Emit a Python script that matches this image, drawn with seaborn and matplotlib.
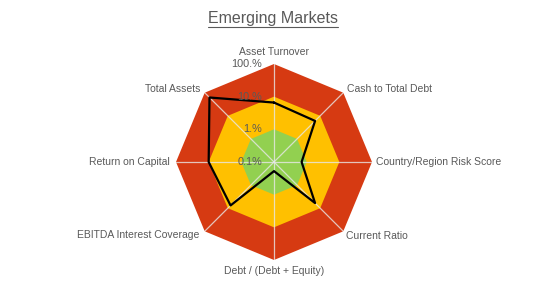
import numpy as np
import pandas as pd
import matplotlib
matplotlib.use("Agg")
import matplotlib.pyplot as plt
from matplotlib.transforms import offset_copy
from matplotlib.lines import Line2D
import seaborn as sns

categories = ["Asset Turnover", "Cash to Total Debt", "Country/Region Risk Score",
              "Current Ratio", "Debt / (Debt + Equity)", "EBITDA Interest Coverage",
              "Return on Capital", "Total Assets"]
values_pct = [6.6, 6.0, 0.7, 6.0, 0.19, 7.6, 10.0, 62.0]
band_limits_pct = [100.0, 10.0, 1.0]           # red, yellow, green outer edges
band_colors = ["#D63A12", "#FFC000", "#92D050"]
tick_values_pct = [0.1, 1.0, 10.0, 100.0]
tick_labels = ["0.1%", "1.%", "10.%", "100.%"]
title = "Emerging Markets"

sns.set_style("white")
plt.rcParams["font.family"] = ["Liberation Sans", "DejaVu Sans"]
text_color = "#595959"

W, H, DPI = 547, 295, 100
fig = plt.figure(figsize=(W / DPI, H / DPI), dpi=DPI)
cx, cy, R = 274, 162, 98
ax = fig.add_axes([(cx - R) / W, 1 - (cy + R) / H, 2 * R / W, 2 * R / H], projection="polar")
ax.set_theta_zero_location("N")
ax.set_theta_direction(-1)
ax.set_facecolor("none")

def lg(p):
    return np.log10(np.asarray(p, dtype=float) / 100.0)

rmin, rmax = lg(0.1), lg(100)
ax.set_ylim(rmin, rmax)

n = len(categories)
theta = np.arange(n) * 2 * np.pi / n
theta_c = np.append(theta, theta[0])

for lim, col in zip(band_limits_pct, band_colors):
    ax.fill(theta_c, np.full(n + 1, float(lg(lim))), color=col, lw=0, zorder=1)

for t in theta:
    ax.plot([t, t], [rmin, rmax], color="#E8E8E8", lw=0.9, alpha=0.8, zorder=2)

r_vals = lg(values_pct)
df = pd.DataFrame({"theta": theta_c, "r": np.append(r_vals, r_vals[0])})
sns.lineplot(data=df, x="theta", y="r", ax=ax, color="black", lw=1.6, sort=False,
             estimator=None, zorder=3)

ax.set_xticks([])
ax.set_yticks([])
ax.set_xlabel("")
ax.set_ylabel("")
ax.grid(False)
ax.spines["polar"].set_visible(False)

# radial tick labels
tr_tick = offset_copy(ax.transData, fig=fig, x=-12, y=0, units="dots")
for v, lab in zip(tick_values_pct, tick_labels):
    ax.text(0, float(lg(v)), lab, transform=tr_tick, ha="right", va="center",
            fontsize=7.8, color=text_color, zorder=4)

# category labels
lab_style = [("center", "center", 0, 12), ("left", "center", 4, 4),
             ("left", "center", 4, 0), ("left", "center", 3, -5),
             ("center", "center", 0, -11), ("right", "center", -5, -4),
             ("right", "center", -6, 0), ("right", "center", -4, 4)]
for t, cat, (ha, va, dx, dy) in zip(theta, categories, lab_style):
    tr = offset_copy(ax.transData, fig=fig, x=dx, y=dy, units="dots")
    ax.text(t, rmax, cat, transform=tr, ha=ha, va=va, fontsize=7.5,
            color=text_color, clip_on=False)

# underlined title
tt = fig.text(273 / W, 1 - 18 / H, title, ha="center", va="center",
              fontsize=11.5, color=text_color)
fig.canvas.draw()
bb = tt.get_window_extent(renderer=fig.canvas.get_renderer())
yline = (bb.y0 - 1) / H
fig.add_artist(Line2D([bb.x0 / W, bb.x1 / W], [yline, yline], color=text_color,
                      lw=0.8, transform=fig.transFigure))

fig.savefig("out.png", dpi=DPI)
